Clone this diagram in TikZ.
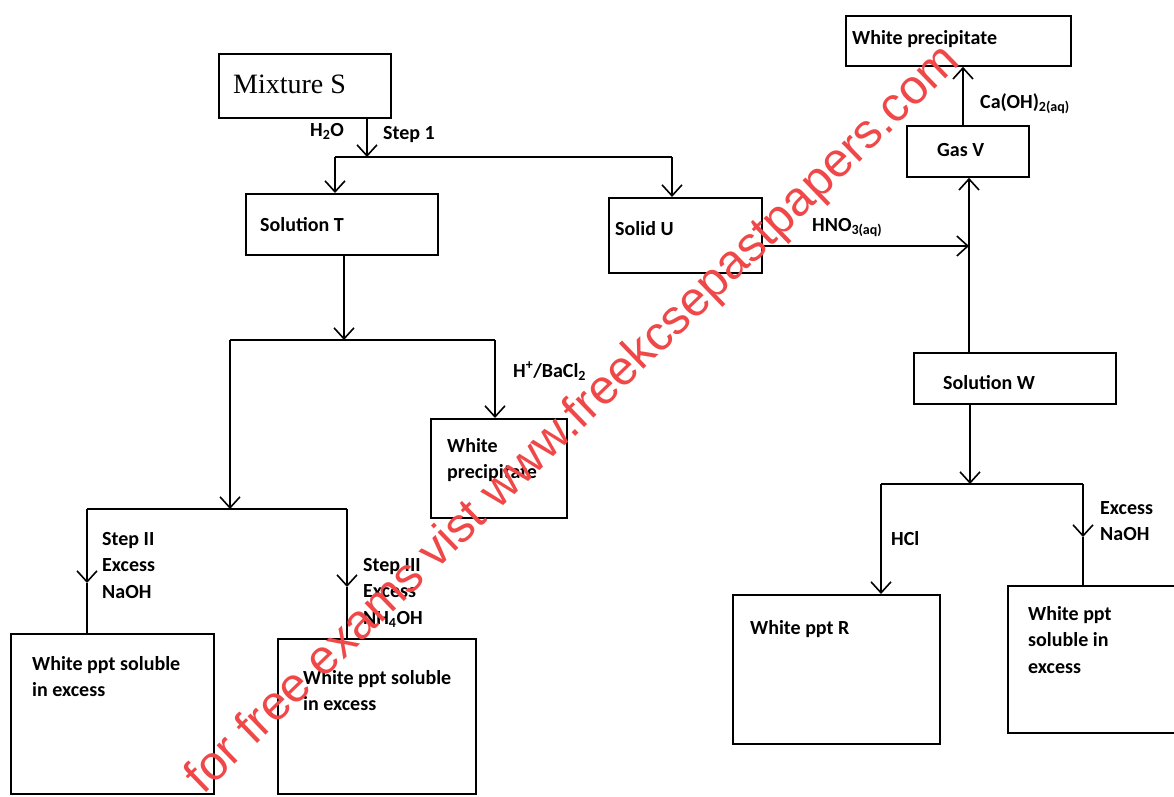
\documentclass[tikz,border=0pt]{standalone}
\usepackage{fontspec}
\setmainfont{Carlito}
\newfontfamily\serifS{Liberation Serif}
\newfontfamily\wmfont{Liberation Sans}
\usetikzlibrary{arrows.meta}
\definecolor{wmred}{RGB}{240,72,72}
\begin{document}
\begin{tikzpicture}[x=1pt,y=-1pt,
  box/.style={draw, line width=1.8pt, inner sep=0pt, anchor=north west},
  txt/.style={font=\bfseries\fontsize{20}{26.5}\selectfont, inner sep=0pt, align=left},
  ln/.style={line width=1.8pt},
  arr/.style={line width=1.8pt, -{Straight Barb[length=11pt,width=20pt,line width=1.6pt]}},
]
\useasboundingbox (0,0) rectangle (1174,796);
\fill[white] (0,0) rectangle (1174,796);

% boxes
\node[box, minimum width=172pt, minimum height=64pt] (S) at (218,53) {};
\node[box, minimum width=192pt, minimum height=61pt] (T) at (245,193) {};
\node[box, minimum width=153pt, minimum height=75pt] (U) at (608,197) {};
\node[box, minimum width=225pt, minimum height=50pt] (WPa) at (845,15) {};
\node[box, minimum width=122pt, minimum height=51pt] (V) at (906,125) {};
\node[box, minimum width=202pt, minimum height=51pt] (W) at (913,352) {};
\node[box, minimum width=136pt, minimum height=99pt] (WPb) at (430,418) {};
\node[box, minimum width=203pt, minimum height=160pt] (L1) at (10,633) {};
\node[box, minimum width=198pt, minimum height=155pt] (L2) at (277,638) {};
\node[box, minimum width=207pt, minimum height=149pt] (R) at (732,594) {};
\node[box, minimum width=180pt, minimum height=147pt] (X) at (1007,585) {};

% box texts
\node[inner sep=0pt, anchor=base west, font=\serifS\fontsize{28}{30}\selectfont] (tS) at (233,93) {Mixture S};
\node[txt, anchor=base west] (tT) at (260,231) {Solution T};
\node[txt, anchor=base west] (tU) at (615,235) {Solid U};
\node[txt, anchor=base west] (tWPa) at (852,44) {White precipitate};
\node[txt, anchor=base west] (tV) at (937,156) {Gas V};
\node[txt, anchor=base west] (tW) at (943,389) {Solution W};
\node[txt, anchor=base west] (tR) at (750,634) {White ppt R};
\node[txt, anchor=north west] (tWPb) at (447,438) {White\\precipitate};
\node[txt, anchor=north west] (tL1) at (32,656) {White ppt soluble\\in excess};
\node[txt, anchor=north west] (tL2) at (303,670) {White ppt soluble\\in excess};
\node[txt, anchor=north west] (tX) at (1028,606) {White ppt\\soluble in\\excess};

% labels
\node[txt, anchor=base west] (lH2O) at (310,136) {H\textsubscript{2}O};
\node[txt, anchor=base west] (lStep1) at (383,139) {Step 1};
\node[txt, anchor=base west] (lBa) at (513,377) {H\textsuperscript{+}/BaCl\textsubscript{2}};
\node[txt, anchor=north west] (lStep2) at (102,532) {Step II\\Excess\\NaOH};
\node[txt, anchor=north west] (lStep3) at (363,558) {Step III\\Excess\\NH\textsubscript{4}OH};
\node[txt, anchor=base west] (lHNO) at (812,231) {HNO\textsubscript{3(aq)}};
\node[txt, anchor=base west] (lCa) at (980,108) {Ca(OH)\textsubscript{2(aq)}};
\node[txt, anchor=base west] (lHCl) at (891,545) {HCl};
\node[txt, anchor=north west] (lNa) at (1100,501) {Excess\\NaOH};

% connectors
\coordinate (a1) at (367,157);
\coordinate (a1L) at (335,157);
\coordinate (a1R) at (672,157);
\draw[arr] (S.south -| a1) -- (a1);
\draw[ln] (a1L) -- (a1R);
\draw[arr] (a1L) -- (a1L |- T.north);
\draw[arr] (a1R) -- (a1R |- U.north);

\coordinate (b1) at (344,340);
\coordinate (b1L) at (230,340);
\coordinate (b1R) at (495,340);
\draw[arr] (T.south -| b1) -- (b1);
\draw[ln] (b1L) -- (b1R);
\draw[arr] (b1R) -- (b1R |- WPb.north);

\coordinate (c1) at (230,509);
\coordinate (c1L) at (87,509);
\coordinate (c1R) at (347,509);
\coordinate (c2) at (87,583);
\coordinate (c3) at (347,587);
\draw[arr] (b1L) -- (c1);
\draw[ln] (c1L) -- (c1R);
\draw[arr] (c1L) -- (c2);
\draw[ln] (c2) -- (c2 |- L1.north);
\draw[arr] (c1R) -- (c3);
\draw[ln] (c3) -- (c3 |- L2.north);

\coordinate (u2) at (969,246);
\draw[arr] (U.east |- u2) -- (u2);
\draw[arr] (W.north -| u2) -- (V.south -| u2);
\coordinate (v1) at (963,100);
\draw[arr] (V.north -| v1) -- (WPa.south -| v1);

\coordinate (d1) at (970,484);
\coordinate (d1L) at (881,484);
\coordinate (d1R) at (1083,484);
\coordinate (d2) at (1083,537);
\draw[arr] (W.south -| d1) -- (d1);
\draw[ln] (d1L) -- (d1R);
\draw[arr] (d1L) -- (d1L |- R.north);
\draw[arr] (d1R) -- (d2);
\draw[ln] (d2) -- (d2 |- X.north);

% watermark
\node[rotate=44, text=wmred, font=\wmfont\fontsize{48.5}{48.5}\selectfont, inner sep=0pt] (wm) at (574,420) {for free exams vist www.freekcsepastpapers.com};
\end{tikzpicture}
\end{document}
